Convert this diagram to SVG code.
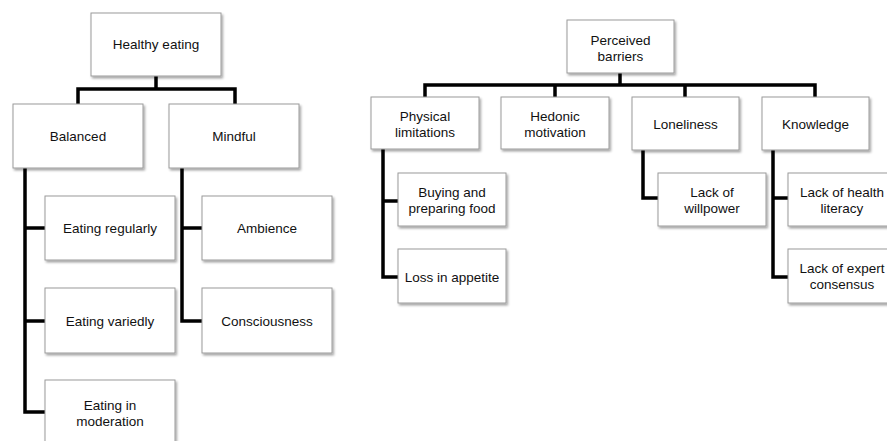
<svg xmlns="http://www.w3.org/2000/svg" width="887" height="441" viewBox="0 0 887 441">
<style>
.box{fill:#fff;stroke:#9a9a9a;stroke-width:1;filter:url(#sh)}
.t{font-family:"Liberation Sans",Arial,sans-serif;font-size:13.5px;fill:#111;text-anchor:middle;dominant-baseline:central}
.c{fill:none;stroke:#000;stroke-width:3.5;stroke-linejoin:miter;stroke-linecap:butt}
</style>
<defs>
<filter id="sh" x="-10%" y="-10%" width="130%" height="140%">
<feDropShadow dx="1.5" dy="2" stdDeviation="1.2" flood-color="#000" flood-opacity="0.35"/>
</filter>
</defs>
<rect width="887" height="441" fill="#fff"/>
<g id="connectors">
<path class="c" d="M156,76 V89 M78,104 V89 H235 V104"/>
<path class="c" d="M25,168 V412 H45 M25,228 H45 M25,321 H45"/>
<path class="c" d="M182,168 V321 H202 M182,228 H202"/>
<path class="c" d="M620,73 V85 M425,97 V85 H815 V97 M555,85 V97 M685,85 V97"/>
<path class="c" d="M383,149 V277 H398 M383,201 H398"/>
<path class="c" d="M643,150 V198 H658"/>
<path class="c" d="M773,150 V277 H788 M773,198 H788"/>
</g>
<g id="healthy-eating"><rect class="box" x="91" y="13" width="130" height="63"/><text class="t" x="156" y="44.5">Healthy eating</text></g>
<g id="balanced"><rect class="box" x="13" y="104" width="130" height="64"/><text class="t" x="78" y="136">Balanced</text></g>
<g id="mindful"><rect class="box" x="169" y="104" width="130" height="64"/><text class="t" x="234" y="136">Mindful</text></g>
<g id="eating-regularly"><rect class="box" x="45" y="196" width="130" height="64"/><text class="t" x="110" y="228">Eating regularly</text></g>
<g id="eating-variedly"><rect class="box" x="45" y="288" width="130" height="65"/><text class="t" x="110" y="321">Eating variedly</text></g>
<g id="eating-in-moderation"><rect class="box" x="45" y="380" width="130" height="66"/><text class="t" x="110" y="405">Eating in</text><text class="t" x="110" y="421">moderation</text></g>
<g id="ambience"><rect class="box" x="202" y="196" width="130" height="64"/><text class="t" x="267" y="228">Ambience</text></g>
<g id="consciousness"><rect class="box" x="202" y="288" width="130" height="65"/><text class="t" x="267" y="321">Consciousness</text></g>
<g id="perceived-barriers"><rect class="box" x="567" y="20" width="107" height="53"/><text class="t" x="620.5" y="40">Perceived</text><text class="t" x="620.5" y="56">barriers</text></g>
<g id="physical-limitations"><rect class="box" x="371" y="97" width="108" height="52"/><text class="t" x="425" y="116">Physical</text><text class="t" x="425" y="132">limitations</text></g>
<g id="hedonic-motivation"><rect class="box" x="501" y="97" width="108" height="52"/><text class="t" x="555" y="116">Hedonic</text><text class="t" x="555" y="132">motivation</text></g>
<g id="loneliness"><rect class="box" x="632" y="97" width="107" height="53"/><text class="t" x="685.5" y="124">Loneliness</text></g>
<g id="knowledge"><rect class="box" x="762" y="97" width="107" height="53"/><text class="t" x="815.5" y="124">Knowledge</text></g>
<g id="buying-and-preparing-food"><rect class="box" x="398" y="173" width="108" height="53"/><text class="t" x="452" y="192">Buying and</text><text class="t" x="452" y="208">preparing food</text></g>
<g id="loss-in-appetite"><rect class="box" x="398" y="249" width="108" height="54"/><text class="t" x="452" y="277">Loss in appetite</text></g>
<g id="lack-of-willpower"><rect class="box" x="658" y="173" width="108" height="53"/><text class="t" x="712" y="192">Lack of</text><text class="t" x="712" y="208">willpower</text></g>
<g id="lack-of-health-literacy"><rect class="box" x="788" y="173" width="108" height="53"/><text class="t" x="842" y="192">Lack of health</text><text class="t" x="842" y="208">literacy</text></g>
<g id="lack-of-expert-consensus"><rect class="box" x="788" y="249" width="108" height="54"/><text class="t" x="842" y="268">Lack of expert</text><text class="t" x="842" y="284">consensus</text></g>
</svg>
